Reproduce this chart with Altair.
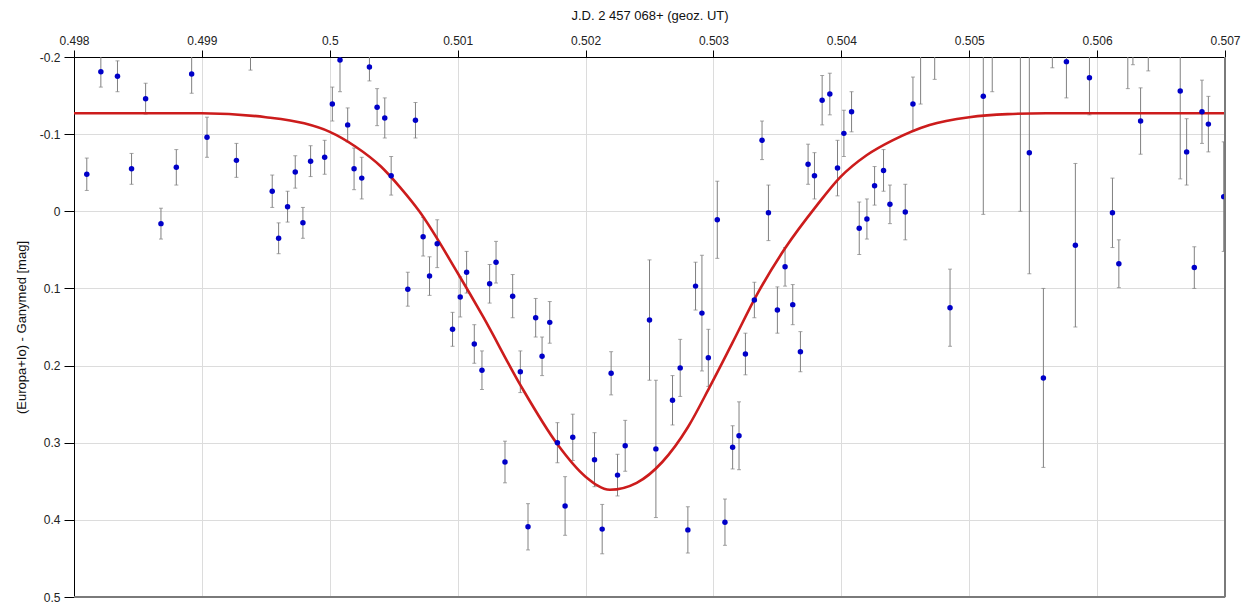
import altair as alt
import pandas as pd

# --- observations: J.D. fraction, magnitude difference, error ---
jd = [0.49810, 0.49821, 0.49834, 0.49845, 0.49856, 0.49868, 0.49880, 0.49892, 0.49904, 0.49927,
      0.49938, 0.49955, 0.49960, 0.49967, 0.49973, 0.49979, 0.49985, 0.49996, 0.50002, 0.50008,
      0.50014, 0.50019, 0.50025, 0.50031, 0.50037, 0.50043, 0.50048, 0.50067, 0.50061, 0.50073,
      0.50078, 0.50084, 0.50096, 0.50102, 0.50107, 0.50113, 0.50119, 0.50125, 0.50130, 0.50137,
      0.50143, 0.50149, 0.50155, 0.50161, 0.50166, 0.50172, 0.50178, 0.50184, 0.50190, 0.50207,
      0.50213, 0.50220, 0.50225, 0.50231, 0.50250, 0.50255, 0.50268, 0.50274, 0.50280, 0.50286,
      0.50291, 0.50296, 0.50303, 0.50309, 0.50315, 0.50320, 0.50325, 0.50332, 0.50338, 0.50343,
      0.50350, 0.50356, 0.50362, 0.50368, 0.50374, 0.50379, 0.50385, 0.50391, 0.50397, 0.50402,
      0.50408, 0.50414, 0.50420, 0.50426, 0.50433, 0.50438, 0.50450, 0.50456, 0.50462, 0.50473,
      0.50485, 0.50511, 0.50518, 0.50540, 0.50547, 0.50558, 0.50565, 0.50576, 0.50583, 0.50594,
      0.50612, 0.50617, 0.50624, 0.50628, 0.50634, 0.50640, 0.50665, 0.50670, 0.50676, 0.50682,
      0.50687, 0.50699]
mag = [-0.048, -0.181, -0.175, -0.055, -0.146, 0.016, -0.057, -0.178, -0.096, -0.066,
       -0.215, -0.026, 0.035, -0.006, -0.051, 0.015, -0.065, -0.070, -0.139, -0.196,
       -0.112, -0.055, -0.043, -0.187, -0.135, -0.121, -0.046, -0.118, 0.101, 0.033,
       0.084, 0.042, 0.153, 0.111, 0.079, 0.172, 0.206, 0.094, 0.066, 0.325,
       0.110, 0.208, 0.409, 0.138, 0.188, 0.144, 0.300, 0.382, 0.293, 0.322,
       0.412, 0.210, 0.342, 0.304, 0.141, 0.308, 0.245, 0.203, 0.413, 0.097,
       0.132, 0.190, 0.011, 0.403, 0.306, 0.291, 0.185, 0.115, -0.092, 0.002,
       0.128, 0.072, 0.121, 0.182, -0.061, -0.046, -0.144, -0.152, -0.056, -0.101,
       -0.129, 0.022, 0.010, -0.033, -0.053, -0.009, 0.001, -0.139, -0.225, -0.215,
       0.125, -0.149, -0.225, -0.230, -0.076, 0.216, -0.215, -0.194, 0.044, -0.173,
       0.002, 0.068, -0.220, -0.215, -0.117, -0.210, -0.156, -0.077, 0.073, -0.129,
       -0.113, -0.019]
err = [0.021, 0.020, 0.020, 0.020, 0.020, 0.020, 0.023, 0.025, 0.026, 0.022,
       0.032, 0.021, 0.020, 0.020, 0.021, 0.020, 0.020, 0.022, 0.022, 0.041,
       0.022, 0.027, 0.027, 0.018, 0.024, 0.026, 0.025, 0.023, 0.022, 0.025,
       0.025, 0.031, 0.022, 0.026, 0.027, 0.025, 0.025, 0.025, 0.027, 0.027,
       0.028, 0.027, 0.030, 0.025, 0.025, 0.027, 0.026, 0.038, 0.030, 0.035,
       0.032, 0.028, 0.027, 0.033, 0.078, 0.089, 0.032, 0.037, 0.030, 0.031,
       0.075, 0.037, 0.050, 0.030, 0.028, 0.044, 0.027, 0.023, 0.025, 0.036,
       0.030, 0.025, 0.026, 0.026, 0.026, 0.030, 0.032, 0.027, 0.036, 0.030,
       0.026, 0.034, 0.026, 0.025, 0.027, 0.025, 0.036, 0.035, 0.086, 0.044,
       0.050, 0.153, 0.070, 0.230, 0.157, 0.116, 0.029, 0.047, 0.106, 0.048,
       0.045, 0.031, 0.061, 0.025, 0.043, 0.028, 0.114, 0.043, 0.027, 0.041,
       0.036, 0.071]

# --- fitted light curve ---
fit_jd = [0.4980, 0.4990, 0.4995, 0.4998, 0.5000, 0.5002, 0.5004, 0.50055, 0.5007, 0.5010,
          0.5012, 0.5015, 0.50178, 0.5020, 0.50219, 0.5024, 0.5026, 0.5028, 0.50297,
          0.50315, 0.50334, 0.50356, 0.50381, 0.50399, 0.5042, 0.5044, 0.50469, 0.5050, 0.5053,
          0.5056, 0.5070]
fit_mag = [-0.127, -0.127, -0.122, -0.114, -0.103, -0.084, -0.058, -0.031, 0.000, 0.080,
           0.137, 0.228, 0.302, 0.344, 0.361, 0.352, 0.325, 0.280, 0.228,
           0.170, 0.108, 0.048, -0.008, -0.044, -0.073, -0.092, -0.112, -0.122, -0.126,
           -0.127, -0.127]

x_ticks = [0.498, 0.499, 0.5, 0.501, 0.502, 0.503, 0.504, 0.505, 0.506, 0.507]
y_ticks = [-0.2, -0.1, 0, 0.1, 0.2, 0.3, 0.4, 0.5]
x_title = "J.D. 2 457 068+ (geoz. UT)"
y_title = "(Europa+Io) - Ganymed [mag]"

df = pd.DataFrame({"jd": jd, "mag": mag, "err": err})
df["lo"] = df["mag"] - df["err"]
df["hi"] = df["mag"] + df["err"]
fit = pd.DataFrame({"jd": fit_jd, "mag": fit_mag})

FONT = "Liberation Sans"
xscale = alt.Scale(domain=[0.498, 0.507], nice=False, zero=False)
yscale = alt.Scale(domain=[-0.2, 0.5], reverse=True, nice=False, zero=False)

xaxis = alt.Axis(orient="top", values=x_ticks, labelExpr="datum.value + ''",
                 title=x_title, titleFontWeight="normal", titleFontSize=13, titleFont=FONT,
                 titleColor="#111", titlePadding=12,
                 labelFont=FONT, labelFontSize=12, labelColor="#222", labelPadding=3,
                 tickSize=7, tickColor="#000", domainColor="#000", labelOverlap=False,
                 gridColor="#dcdcdc", gridWidth=1, labelFlush=False)
yaxis = alt.Axis(orient="left", values=y_ticks, labelExpr="datum.value + ''",
                 title=y_title, titleFontWeight="normal", titleFontSize=13, titleFont=FONT,
                 titleColor="#111", titlePadding=11,
                 labelFont=FONT, labelFontSize=12, labelColor="#222", labelPadding=4,
                 tickSize=10, tickColor="#000", domainColor="#000", labelOverlap=False,
                 gridColor="#dcdcdc", gridWidth=1)

bars = alt.Chart(df).mark_rule(color="#808080", strokeWidth=1, clip=True).encode(
    x=alt.X("jd:Q", scale=xscale, axis=xaxis),
    y=alt.Y("lo:Q", scale=yscale, axis=yaxis),
    y2="hi:Q",
)
cap_lo = alt.Chart(df).mark_tick(color="#808080", orient="horizontal", size=4,
                                 thickness=1, clip=True).encode(
    x=alt.X("jd:Q", scale=xscale), y=alt.Y("lo:Q", scale=yscale))
cap_hi = alt.Chart(df).mark_tick(color="#808080", orient="horizontal", size=4,
                                 thickness=1, clip=True).encode(
    x=alt.X("jd:Q", scale=xscale), y=alt.Y("hi:Q", scale=yscale))

curve = alt.Chart(fit).mark_line(color="#cc1c1c", strokeWidth=2.6,
                                 interpolate="monotone", clip=True).encode(
    x=alt.X("jd:Q", scale=xscale), y=alt.Y("mag:Q", scale=yscale))

points = alt.Chart(df).mark_circle(color="#0000c8", size=30, opacity=1, clip=True).encode(
    x=alt.X("jd:Q", scale=xscale), y=alt.Y("mag:Q", scale=yscale))

edge_r = alt.Chart(pd.DataFrame({"v": [0.507]})).mark_rule(color="#7a7a7a", strokeWidth=2).encode(
    x=alt.X("v:Q", scale=xscale))
edge_b = alt.Chart(pd.DataFrame({"v": [0.5]})).mark_rule(color="#7a7a7a", strokeWidth=2).encode(
    y=alt.Y("v:Q", scale=yscale))

chart = alt.layer(bars, cap_lo, cap_hi, curve, points, edge_r, edge_b).properties(
    width=1151, height=540,
    autosize=alt.AutoSizeParams(type="none"),
    padding={"left": 66, "top": 49, "right": 17, "bottom": 7},
).configure_view(fill="#fffff0", stroke=None).configure(background="white")

chart.save("out.html", embed_options={"renderer": "svg", "actions": False})
